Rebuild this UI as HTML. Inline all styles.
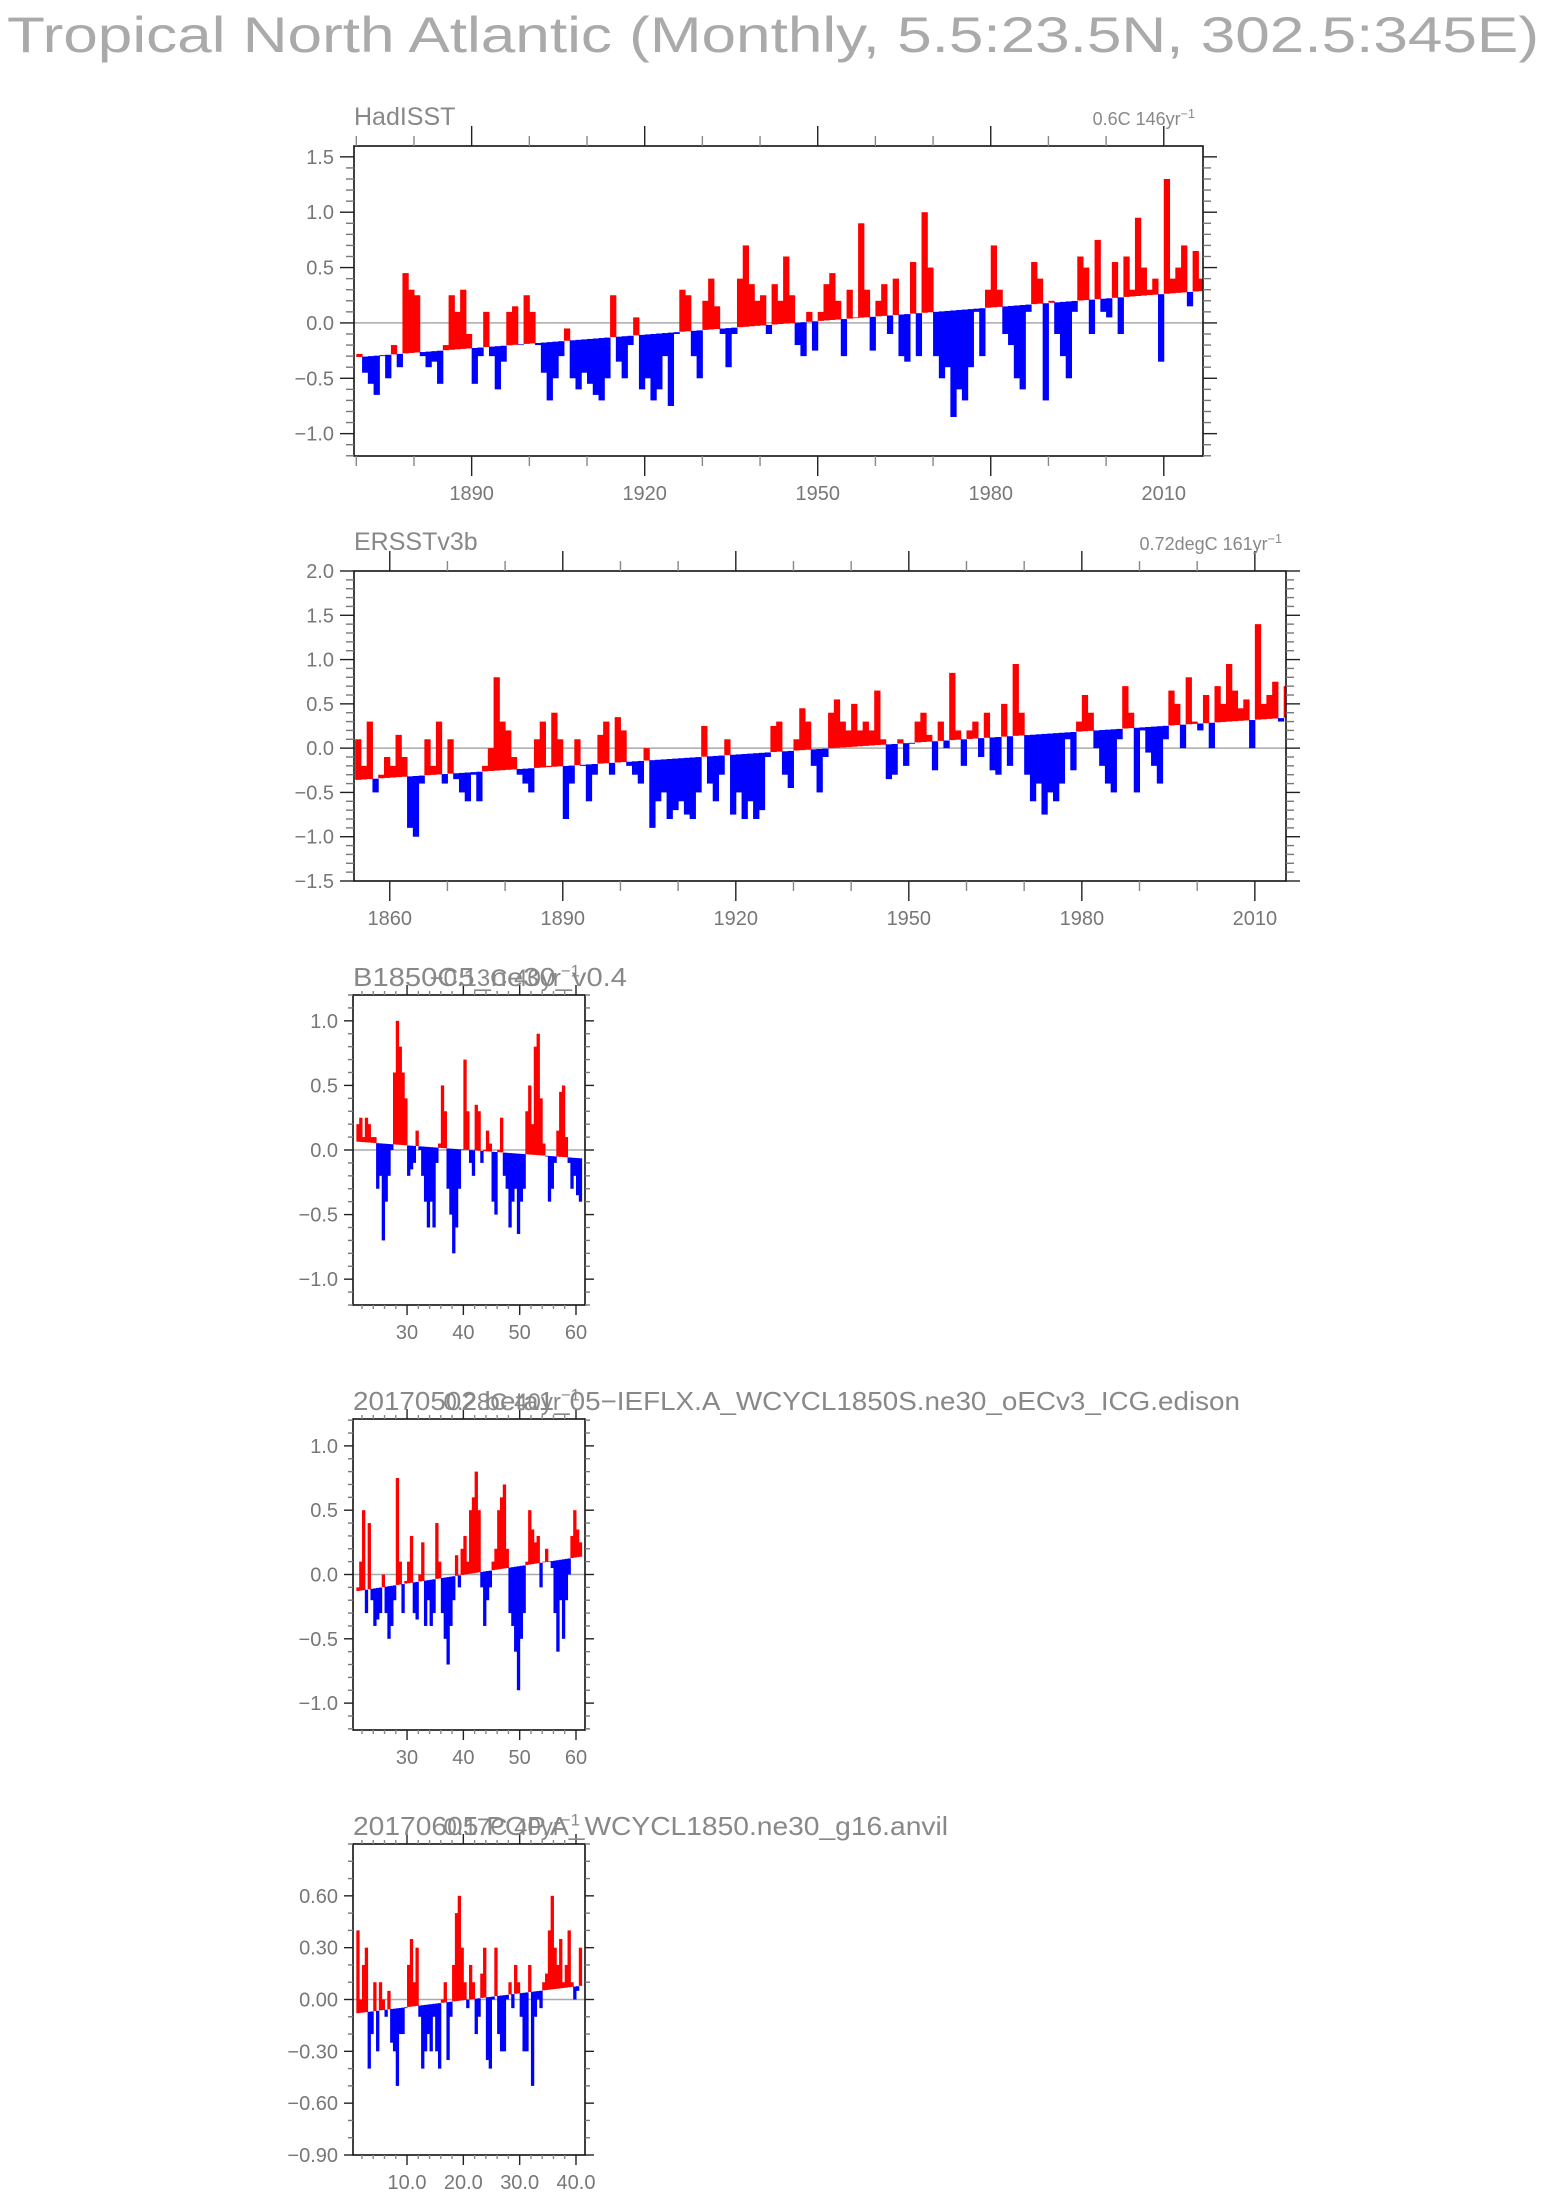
<!DOCTYPE html>
<html><head><meta charset="utf-8"><style>
html,body{margin:0;padding:0;background:#fff;}
svg{display:block;font-family:"Liberation Sans",sans-serif;}
</style></head><body>
<svg id="chart" width="1544" height="2197" viewBox="0 0 1544 2197" xmlns="http://www.w3.org/2000/svg">
<text x="7" y="52" font-size="50" fill="#aaa" textLength="1532" lengthAdjust="spacingAndGlyphs">Tropical North Atlantic (Monthly, 5.5:23.5N, 302.5:345E)</text>
</svg>
<script>
// ---------- data ----------
const hadStartYear = 1870;
const hadValues = [
-0.28,-0.45,-0.55,-0.65,-0.3,-0.5,-0.2,-0.4,0.45,0.3,
0.25,-0.3,-0.4,-0.35,-0.55,-0.2,0.25,0.1,0.3,-0.1,
-0.55,-0.3,0.1,-0.3,-0.6,-0.35,0.1,0.15,-0.2,0.25,
0.1,-0.2,-0.45,-0.7,-0.5,-0.3,-0.05,-0.5,-0.6,-0.45,
-0.55,-0.65,-0.7,-0.5,0.25,-0.35,-0.5,-0.2,0.05,-0.6,
-0.5,-0.7,-0.6,-0.3,-0.75,-0.1,0.3,0.25,-0.3,-0.5,
0.2,0.4,0.15,-0.1,-0.4,-0.1,0.4,0.7,0.35,0.2,
0.25,-0.1,0.35,0.2,0.6,0.25,-0.2,-0.3,0.1,-0.25,
0.1,0.35,0.45,0.2,-0.3,0.3,0.05,0.9,0.3,-0.25,
0.2,0.35,-0.1,0.4,-0.3,-0.35,0.55,-0.3,1.0,0.5,
-0.3,-0.5,-0.4,-0.85,-0.6,-0.7,-0.4,0.1,-0.3,0.3,
0.7,0.3,-0.1,-0.2,-0.5,-0.6,0.1,0.55,0.4,-0.7,
0.2,-0.1,-0.3,-0.5,0.1,0.6,0.5,-0.1,0.75,0.1,
0.05,0.55,-0.1,0.6,0.3,0.95,0.5,0.3,0.4,-0.35,
1.3,0.4,0.5,0.7,0.15,0.65,0.4];
const hadTrend = [-0.31, 0.29];

const ersStartYear = 1854;
const ersValues = [
0.1,-0.2,0.3,-0.5,-0.3,-0.1,
-0.2,0.15,-0.1,-0.9,-1.0,-0.4,0.1,-0.2,0.3,-0.4,
0.1,-0.35,-0.5,-0.6,-0.3,-0.6,-0.2,0.0,0.8,0.3,
0.2,-0.1,-0.3,-0.4,-0.5,0.1,0.3,-0.2,0.4,0.1,
-0.8,-0.4,0.1,-0.2,-0.6,-0.3,0.15,0.3,-0.3,0.35,
0.2,-0.2,-0.3,-0.4,0.0,-0.9,-0.6,-0.5,-0.8,-0.7,
-0.6,-0.75,-0.8,-0.5,0.25,-0.4,-0.6,-0.3,0.1,-0.75,
-0.5,-0.8,-0.6,-0.8,-0.7,-0.1,0.25,0.3,-0.3,-0.45,
0.1,0.45,0.3,-0.2,-0.5,-0.1,0.4,0.55,0.3,0.2,
0.5,0.2,0.3,0.2,0.65,0.1,-0.35,-0.3,0.1,-0.2,
0.05,0.3,0.4,0.15,-0.25,0.3,0.0,0.85,0.2,-0.2,
0.2,0.3,-0.1,0.4,-0.25,-0.3,0.5,-0.2,0.95,0.4,
-0.3,-0.6,-0.4,-0.75,-0.5,-0.6,-0.4,0.1,-0.25,0.3,
0.6,0.4,0.0,-0.2,-0.4,-0.5,0.1,0.7,0.4,-0.5,
0.2,-0.05,-0.2,-0.4,0.1,0.65,0.5,0.0,0.8,0.3,
0.2,0.6,0.0,0.7,0.5,0.95,0.65,0.45,0.55,0.0,
1.4,0.5,0.6,0.75,0.3,0.7,0.55];
const ersTrend = [-0.36, 0.35];

const m1StartYear = 21;
const m1Values = [
0.2,0.25,0.1,0.25,0.2,0.1,0.1,-0.3,-0.2,-0.7,-0.4,-0.2,0.0,0.6,1.0,0.8,0.6,0.4,-0.2,-0.15,
-0.1,0.15,0.0,-0.2,-0.4,-0.6,-0.4,-0.6,-0.1,0.05,0.5,0.3,-0.3,-0.5,-0.8,-0.6,-0.3,0.0,0.7,0.3,
-0.1,-0.2,0.35,0.3,-0.1,0.0,0.15,0.05,-0.4,-0.5,0.0,0.25,-0.2,-0.3,-0.6,-0.4,-0.3,-0.65,-0.4,-0.3,
0.3,0.5,0.2,0.8,0.9,0.4,0.05,-0.05,-0.4,-0.3,-0.1,0.15,0.45,0.5,0.1,-0.1,-0.3,-0.2,-0.35,-0.4];
const m1Trend = [0.065, -0.065];

const m2StartYear = 21;
const m2Values = [
-0.1,0.1,0.5,-0.3,0.4,-0.2,-0.4,-0.35,-0.3,0.0,-0.3,-0.5,-0.4,-0.2,0.75,0.1,-0.3,-0.05,0.1,0.3,
-0.3,-0.35,0.0,0.25,-0.4,-0.2,-0.4,-0.3,0.4,0.1,-0.3,-0.5,-0.7,-0.4,-0.2,0.15,-0.1,0.2,0.3,0.1,
0.5,0.6,0.8,0.5,-0.1,-0.4,-0.2,-0.1,0.1,0.2,0.5,0.6,0.7,0.2,-0.3,-0.4,-0.6,-0.9,-0.5,-0.3,
0.1,0.5,0.35,0.25,0.3,-0.1,0.1,0.2,0.1,0.05,-0.3,-0.6,-0.2,-0.5,-0.2,0.0,0.3,0.5,0.35,0.25];
const m2Trend = [-0.13, 0.14];

const m3StartYear = 1;
const m3Values = [
0.4,0.0,0.2,0.3,-0.4,-0.2,0.1,-0.3,0.1,0.0,-0.1,0.05,-0.25,-0.3,-0.5,-0.2,-0.2,-0.05,0.2,0.35,
0.1,0.3,-0.1,-0.4,-0.3,-0.2,-0.3,-0.1,-0.3,-0.4,0.0,0.1,-0.35,-0.1,0.2,0.5,0.6,0.3,0.1,-0.05,
0.2,0.1,-0.2,-0.1,0.15,0.3,-0.35,-0.4,0.0,0.3,-0.2,-0.3,-0.3,0.0,0.1,-0.05,0.2,0.1,-0.1,-0.3,
-0.3,0.2,-0.5,-0.1,0.0,-0.05,0.1,0.15,0.4,0.6,0.3,0.2,0.35,0.1,0.2,0.4,0.1,0.0,0.05,0.3];
const m3Trend = [-0.08, 0.08];

const hadYTicks = [1.5,1.0,0.5,0.0,-0.5,-1.0];
const hadYLabels = ["1.5","1.0","0.5","0.0","\u22120.5","\u22121.0"];
const ersYTicks = [2.0,1.5,1.0,0.5,0.0,-0.5,-1.0,-1.5];
const ersYLabels = ["2.0","1.5","1.0","0.5","0.0","\u22120.5","\u22121.0","\u22121.5"];
const m12YTicks = [1.0,0.5,0.0,-0.5,-1.0];
const m12YLabels = ["1.0","0.5","0.0","\u22120.5","\u22121.0"];
const m3YTicks = [0.6,0.3,0.0,-0.3,-0.6,-0.9];
const m3YLabels = ["0.60","0.30","0.00","\u22120.30","\u22120.60","\u22120.90"];
const hadXTicks = [1890,1920,1950,1980,2010];
const ersXTicks = [1860,1890,1920,1950,1980,2010];
const m12XTicks = [30,40,50,60];
const m3XTicks = [10,20,30,40];
const m3XLabels = ["10.0","20.0","30.0","40.0"];

// ---------- drawing ----------
const NS = "http://www.w3.org/2000/svg";
const svg = document.getElementById("chart");
function mk(tag, attrs, parent){
  const e = document.createElementNS(NS, tag);
  for (const k in attrs) e.setAttribute(k, attrs[k]);
  (parent||svg).appendChild(e);
  return e;
}

function panel(cfg){
  const g = mk("g", {});
  
  
  const X = t => cfg.left + (t - cfg.x0) * (cfg.right - cfg.left) / (cfg.x1 - cfg.x0);
  const Y = v => cfg.top + (cfg.y1 - v) * (cfg.bottom - cfg.top) / (cfg.y1 - cfg.y0);
  const n = cfg.values.length;
  const tStart = cfg.start, tEnd = cfg.start + n * cfg.dt;
  const trend = t => cfg.trend[0] + (cfg.trend[1] - cfg.trend[0]) * (t - tStart) / (tEnd - tStart);
  const z = mk("line", {x1:cfg.left, x2:cfg.right, y1:Y(0), y2:Y(0), stroke:"#aaa", "stroke-width":1.5}, g);
  
  
  const bars = mk("g", {}, g);
  
  
  for (let i = 0; i < n; i++){
    const t = tStart + i * cfg.dt;
    let xa = X(t), xb = X(t + cfg.dt);
    xa = Math.max(xa, cfg.left); xb = Math.min(xb, cfg.right);
    if (xb <= xa) continue;
    const tr = trend(t + cfg.dt/2), v = cfg.values[i];
    const ya = Y(tr), yb = Y(v);
    const r = mk("rect", {x:xa, y:Math.min(ya,yb), width:(xb-xa)+0.5, height:Math.max(Math.abs(yb-ya),0.6),
      fill: v >= tr ? "#ff0000" : "#0000ff"}, bars);
    
    
  }
  const b = mk("rect", {x:cfg.left, y:cfg.top, width:cfg.right-cfg.left, height:cfg.bottom-cfg.top, fill:"none", stroke:"#111", "stroke-width":1.6}, g);
  
  
  const yax = mk("g", {stroke:"#333","stroke-width":1.4}, g);
  
  
  const eps = 1e-6;
  for (let v = Math.ceil(cfg.y0/cfg.yMinor - eps)*cfg.yMinor; v <= cfg.y1 + eps; v += cfg.yMinor){
    const isMaj = cfg.yTicks.some(m => Math.abs(m - v) < 1e-4);
    const L = isMaj ? cfg.yMaj : cfg.yMin;
    const yy = Y(v);
    mk("line", {x1:cfg.left-L, x2:cfg.left, y1:yy, y2:yy, stroke: isMaj?"#222":"#777"}, yax);
    mk("line", {x1:cfg.right, x2:cfg.right+L, y1:yy, y2:yy, stroke: isMaj?"#222":"#777"}, yax);
  }
  cfg.yTicks.forEach((v, i) => {
    const t = mk("text", {x:cfg.left - cfg.yMaj - 6, y:Y(v)+7, "font-size":20, fill:"#777", "text-anchor":"end"}, g);
    
    
    t.textContent = cfg.yLabels[i];
  });
  const xax = mk("g", {stroke:"#333","stroke-width":1.4}, g);
  
  
  for (let t = Math.ceil(cfg.x0/cfg.xMinor)*cfg.xMinor; t <= cfg.x1; t += cfg.xMinor){
    const isMaj = cfg.xTicks.includes(t);
    const L = isMaj ? cfg.xMaj : cfg.xMin;
    const xx = X(t);
    mk("line", {x1:xx, x2:xx, y1:cfg.bottom, y2:cfg.bottom+L, stroke:isMaj?"#222":"#888"}, xax);
    mk("line", {x1:xx, x2:xx, y1:cfg.top-L, y2:cfg.top, stroke:isMaj?"#222":"#888"}, xax);
  }
  cfg.xTicks.forEach((t, i) => {
    const tx = mk("text", {x:X(t), y:cfg.bottom + cfg.xMaj + 24, "font-size":20, fill:"#777", "text-anchor":"middle"}, g);
    
    
    tx.textContent = cfg.xLabels ? cfg.xLabels[i] : String(t);
  });
  const ti = mk("text", {x:cfg.left, y:cfg.titleY, "font-size":cfg.titleSize, fill:"#888"}, g);
  
  
  if (cfg.titleW) { ti.setAttribute("textLength", cfg.titleW); ti.setAttribute("lengthAdjust","spacingAndGlyphs"); }
  ti.textContent = cfg.title;
  const an = mk("text", {x:cfg.annX, y:cfg.titleY, "font-size":cfg.annSize, fill:"#888", "text-anchor":"end"}, g);
  
  
  an.textContent = cfg.ann;
  const sup = mk("tspan", {dy:-cfg.annSize*0.4, "font-size":cfg.annSize*0.7}, an);
  sup.textContent = "\u22121";
}

panel({name:"hadisst-panel", values:hadValues, start:hadStartYear, dt:1, trend:hadTrend,
  left:354, right:1203, top:146, bottom:456, x0:1869.6, x1:2016.8, y0:-1.202, y1:1.598,
  yTicks:hadYTicks, yLabels:hadYLabels, yMinor:0.1, yMaj:14, yMin:8,
  xTicks:hadXTicks, xMinor:10, xMaj:20, xMin:10,
  title:"HadISST", titleY:125, titleSize:25, ann:"0.6C 146yr", annX:1195, annSize:18});

panel({name:"ersst-panel", values:ersValues, start:ersStartYear, dt:1, trend:ersTrend,
  left:354, right:1286, top:571, bottom:881, x0:1853.8, x1:2015.4, y0:-1.5, y1:2.0,
  yTicks:ersYTicks, yLabels:ersYLabels, yMinor:0.1, yMaj:14, yMin:8,
  xTicks:ersXTicks, xMinor:10, xMaj:20, xMin:10,
  title:"ERSSTv3b", titleY:550, titleSize:25, ann:"0.72degC 161yr", annX:1282, annSize:18});

panel({name:"b1850c5-panel", values:m1Values, start:m1StartYear, dt:0.5, trend:m1Trend,
  left:353, right:585, top:995, bottom:1305, x0:20.4, x1:61.6, y0:-1.2, y1:1.2,
  yTicks:m12YTicks, yLabels:m12YLabels, yMinor:0.1, yMaj:9, yMin:5,
  xTicks:m12XTicks, xMinor:2, xMaj:10, xMin:4,
  title:"B1850C5_ne30_v0.4", titleY:986, titleSize:26, titleW:274, ann:"\u22120.13C 40yr", annX:580, annSize:24});

panel({name:"beta1-edison-panel", values:m2Values, start:m2StartYear, dt:0.5, trend:m2Trend,
  left:353, right:585, top:1419, bottom:1730, x0:20.4, x1:61.6, y0:-1.209, y1:1.209,
  yTicks:m12YTicks, yLabels:m12YLabels, yMinor:0.1, yMaj:9, yMin:5,
  xTicks:m12XTicks, xMinor:2, xMaj:10, xMin:4,
  title:"20170502.beta1_05\u2212IEFLX.A_WCYCL1850S.ne30_oECv3_ICG.edison", titleY:1410, titleSize:26, titleW:887, ann:"0.28C 40yr", annX:580, annSize:24});

panel({name:"pop-anvil-panel", values:m3Values, start:m3StartYear, dt:0.5, trend:m3Trend,
  left:353, right:585, top:1844, bottom:2155, x0:0.41, x1:41.6, y0:-0.9, y1:0.9,
  yTicks:m3YTicks, yLabels:m3YLabels, yMinor:0.1, yMaj:9, yMin:5,
  xTicks:m3XTicks, xLabels:m3XLabels, xMinor:2, xMaj:10, xMin:4,
  title:"20170605.POP.A_WCYCL1850.ne30_g16.anvil", titleY:1835, titleSize:26, titleW:595, ann:"0.17C 40yr", annX:580, annSize:24});
</script>
</body></html>
